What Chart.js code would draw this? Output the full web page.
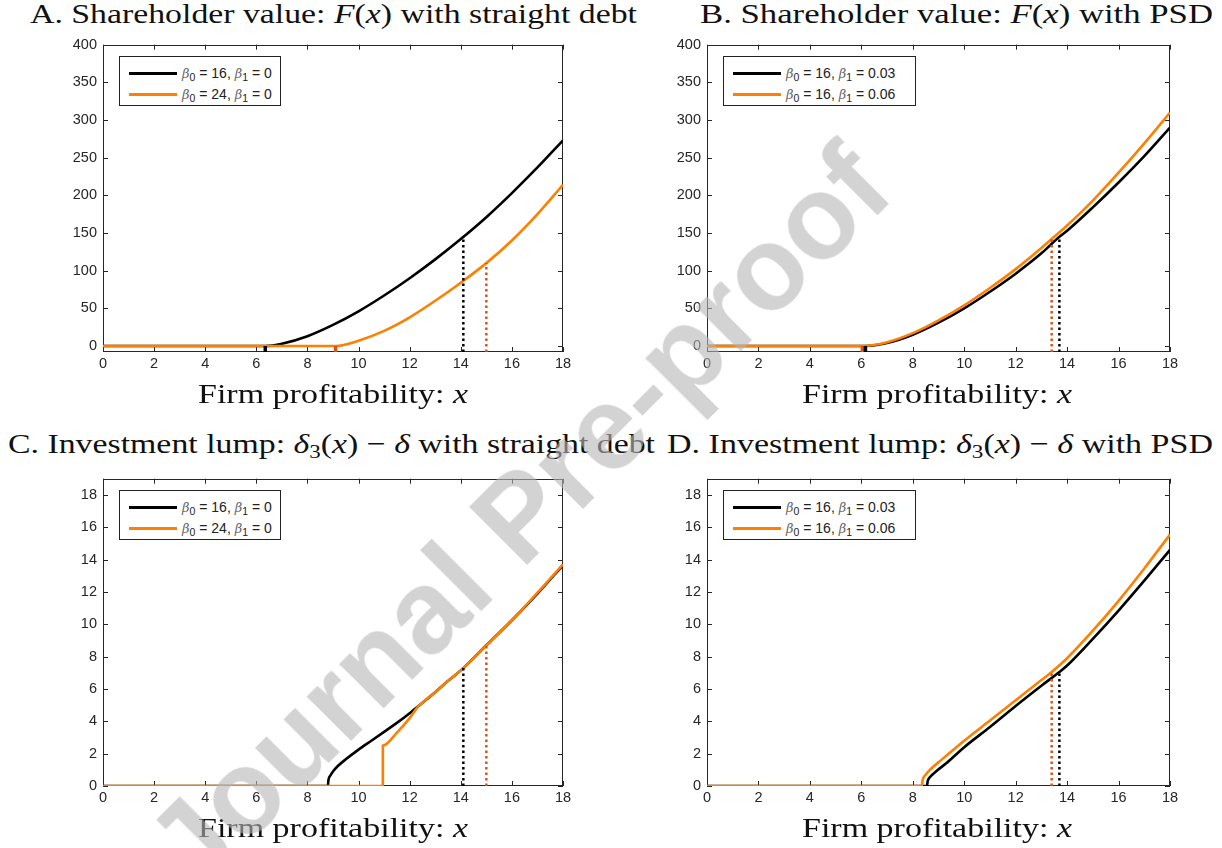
<!DOCTYPE html>
<html><head><meta charset="utf-8">
<script src="https://cdn.jsdelivr.net/npm/chart.js@4/dist/chart.umd.min.js"></script>
<style>
body{margin:0;width:1222px;height:848px;background:#fff;position:relative;overflow:hidden;}
canvas{position:absolute;}
.ttl{position:absolute;white-space:nowrap;font-family:"Liberation Serif",serif;font-size:28px;line-height:28px;color:#111;transform-origin:0 0;}
.ttl sub{font-size:19px;vertical-align:-5px;line-height:0;}
.leg{position:absolute;border:1px solid #222;background:#fff;font-family:"Liberation Sans",sans-serif;font-size:14px;color:#222;box-sizing:border-box;}
.leg .row{position:absolute;left:0;height:16px;white-space:nowrap;}
.leg .ln{position:absolute;left:9px;width:48px;height:3px;top:7px;}
.leg .tx{position:absolute;left:62px;top:0;line-height:16px;}
.leg sub{font-size:10.5px;vertical-align:-3px;line-height:0;}
.leg i{font-family:"DejaVu Serif",serif;font-size:13px;color:#666;}
.wm{position:absolute;white-space:nowrap;font-family:"Liberation Sans",sans-serif;font-weight:bold;font-size:118px;line-height:118px;color:rgba(182,182,182,0.6);transform:translate(-50%,-50%) rotate(-45deg);pointer-events:none;z-index:10;}
</style></head><body>
<canvas id="cA" width="600" height="384" style="left:0;top:30px"></canvas>
<canvas id="cB" width="604" height="384" style="left:604px;top:30px"></canvas>
<canvas id="cC" width="600" height="384" style="left:0;top:464px"></canvas>
<canvas id="cD" width="604" height="384" style="left:604px;top:464px"></canvas>
<div id="labels"></div>
<div class="wm" style="left:518px;top:516px">Journal Pre-proof</div>
<script>
// ---- axis ticks ----
const xTicks=[0,2,4,6,8,10,12,14,16,18];
const yTicksF=[0,50,100,150,200,250,300,350,400];
const yTicksL=[0,2,4,6,8,10,12,14,16,18];
const fRange=[-8,400];
const lRange=[0,19];
const xRange=[0,18];

// ---- Panel A: shareholder value, straight debt ----
const aBlackX=[0,6.35,7,8,9,10,11,12,13,14,15,16,17,18];
const aBlackY=[0,0,3,13,28,46,67,90,115,142,171,203,237,273];
const aOrangeX=[0,9.1,10,11,12,13,14,15,16,17,18];
const aOrangeY=[0,0,7,20,38,60,84,110,140,175,214];
const aBeta0=[16,24];
const aBeta1=['0','0'];
const aDotX=[14.1,15];
const aDotY=[146,110];
const aMarkX=[6.35,9.1];

// ---- Panel B: shareholder value, PSD ----
const bBlackX=[0,6.16,7,8,9,10,11,12,13,13.7,14,15,16,17,18];
const bBlackY=[0,0,4,15,31,50,72,96,123,145,153,184,217,252,290];
const bOrangeX=[0,6.04,7,8,9,10,11,12,13,13.4,14,15,16,17,18];
const bOrangeY=[0,0,5,17,34,54,77,102,130,142,160,193,230,269,310];
const bBeta0=[16,16];
const bBeta1=['0.03','0.06'];
const bDotX=[13.7,13.4];
const bDotY=[145,142];
const bMarkX=[6.16,6.04];

// ---- Panel C: investment lump, straight debt ----
const cBlackX=[0,8.8,8.82,8.9,9.0,9.2,9.5,10,10.5,11,11.5,12,12.5,13,13.5,14,15,16,17,18];
const cBlackY=[0,0,0.35,0.65,0.9,1.25,1.65,2.25,2.8,3.35,3.9,4.5,5.15,5.8,6.5,7.15,8.7,10.25,11.9,13.65];
const cOrangeX=[0,10.95,10.95,11.5,12,12.35,12.5,13,13.5,14,15,16,17,18];
const cOrangeY=[0,0,2.5,3.3,4.2,4.95,5.15,5.8,6.5,7.15,8.7,10.25,11.95,13.7];
const cBeta0=[16,24];
const cBeta1=['0','0'];
const cDotX=[14.1,15];
const cDotY=[7.3,8.7];

// ---- Panel D: investment lump, PSD ----
const dBlackX=[0,8.55,8.58,8.7,8.9,9.3,10,11,12,13,13.7,14,15,16,17,18];
const dBlackY=[0,0,0.3,0.6,0.9,1.4,2.4,3.65,4.95,6.2,7.05,7.45,9.1,10.85,12.7,14.6];
const dOrangeX=[0,8.35,8.38,8.5,8.7,9.1,10,11,12,13,13.4,14,15,16,17,18];
const dOrangeY=[0,0,0.35,0.7,1.05,1.6,2.8,4.05,5.3,6.55,7.05,7.9,9.6,11.45,13.45,15.55];
const dBeta0=[16,16];
const dBeta1=['0.03','0.06'];
const dDotX=[13.7,13.4];
const dDotY=[7.05,7.05];

const BLACK='#000000', ORANGE='#ff8000', RED='#d95319';
const pts=(xs,ys)=>xs.map((x,i)=>({x:x,y:ys[i]}));

const boxPlugin={id:'box',beforeDatasetsDraw(chart){
  const {ctx,chartArea:a,scales:{x,y}}=chart;
  ctx.save();ctx.strokeStyle='#262626';ctx.lineWidth=1;
  ctx.strokeRect(Math.round(a.left)+0.5,Math.round(a.top)+0.5,Math.round(a.right-a.left)-1,Math.round(a.bottom-a.top)-1);
  ctx.beginPath();
  x.ticks.forEach(t=>{const p=Math.round(x.getPixelForValue(t.value))+0.5;
    ctx.moveTo(p,a.bottom);ctx.lineTo(p,a.bottom-5);ctx.moveTo(p,a.top);ctx.lineTo(p,a.top+5);});
  y.ticks.forEach(t=>{const p=Math.round(y.getPixelForValue(t.value))+0.5;
    ctx.moveTo(a.left,p);ctx.lineTo(a.left+5,p);ctx.moveTo(a.right,p);ctx.lineTo(a.right-5,p);});
  ctx.stroke();ctx.restore();}};

function lbl(b0,b1){return 'β₀ = '+b0+', β₁ = '+b1;}
function makePanel(id,P){
  const ds=[];
  P.dotX.forEach((dx,i)=>ds.push({label:'thr'+i,data:pts([dx,dx],[P.yr[0],P.dotY[i]]),borderColor:[BLACK,RED][i],borderWidth:2.5,borderDash:[2.5,3],pointRadius:0}));
  (P.markX||[]).forEach((mx,i)=>ds.push({label:'mark'+i,data:pts([mx,mx],[P.yr[0],0]),borderColor:[BLACK,RED][i],borderWidth:3.5,pointRadius:0}));
  ds.push({label:lbl(P.b0[1],P.b1[1]),data:pts(P.oX,P.oY),borderColor:ORANGE,borderWidth:2.6,pointRadius:0,cubicInterpolationMode:'monotone'});
  ds.push({label:lbl(P.b0[0],P.b1[0]),data:pts(P.kX,P.kY),borderColor:BLACK,borderWidth:2.6,pointRadius:0,cubicInterpolationMode:'monotone'});
  const tickFont={family:'Liberation Sans',size:14.5};
  new Chart(document.getElementById(id),{type:'line',data:{datasets:ds},plugins:[boxPlugin],
    options:{responsive:false,animation:false,devicePixelRatio:1,
      layout:{padding:{top:11,right:P.pr,left:0,bottom:0}},
      elements:{line:{borderJoinStyle:'round',borderCapStyle:'butt'}},
      plugins:{legend:{display:false},tooltip:{enabled:false}},
      scales:{
        x:{type:'linear',min:xRange[0],max:xRange[1],
          afterBuildTicks:s=>{s.ticks=xTicks.map(v=>({value:v}));},
          afterFit:s=>{s.height=62;},
          grid:{display:false,drawTicks:false},border:{display:false},
          ticks:{font:tickFont,color:'#262626',padding:3,maxRotation:0,autoSkip:false}},
        y:{type:'linear',min:P.yr[0],max:P.yr[1],
          afterBuildTicks:s=>{s.ticks=P.yt.map(v=>({value:v}));},
          afterFit:s=>{s.width=103;},
          grid:{display:false,drawTicks:false},border:{display:false},
          ticks:{font:tickFont,color:'#262626',padding:6,autoSkip:false}}
      }}});
}
makePanel('cA',{kX:aBlackX,kY:aBlackY,oX:aOrangeX,oY:aOrangeY,b0:aBeta0,b1:aBeta1,dotX:aDotX,dotY:aDotY,markX:aMarkX,yr:fRange,yt:yTicksF,pr:37});
makePanel('cB',{kX:bBlackX,kY:bBlackY,oX:bOrangeX,oY:bOrangeY,b0:bBeta0,b1:bBeta1,dotX:bDotX,dotY:bDotY,markX:bMarkX,yr:fRange,yt:yTicksF,pr:38});
makePanel('cC',{kX:cBlackX,kY:cBlackY,oX:cOrangeX,oY:cOrangeY,b0:cBeta0,b1:cBeta1,dotX:cDotX,dotY:cDotY,yr:lRange,yt:yTicksL,pr:37});
makePanel('cD',{kX:dBlackX,kY:dBlackY,oX:dOrangeX,oY:dOrangeY,b0:dBeta0,b1:dBeta1,dotX:dDotX,dotY:dDotY,yr:lRange,yt:yTicksL,pr:38});

// ---- text: titles, axis labels, legends ----
const L=document.getElementById('labels');
function addText(html,left,baseline,width){
  const d=document.createElement('div');d.className='ttl';d.innerHTML=html;
  d.style.left=left+'px';d.style.top=(baseline-23.5)+'px';L.appendChild(d);
  const w=d.getBoundingClientRect().width;d.style.transform='scaleX('+(width/w)+')';
}
const Fx='<i>F</i>(<i>x</i>)';
const dl='<i>δ</i><sub>3</sub>(<i>x</i>) − <i>δ</i>';
addText('A. Shareholder value: '+Fx+' with straight debt',30,23,607);
addText('B. Shareholder value: '+Fx+' with PSD',700,23,513);
addText('C. Investment lump: '+dl+' with straight debt',8,453,647);
addText('D. Investment lump: '+dl+' with PSD',667,453,546);
const xl='Firm profitability: <i>x</i>';
addText(xl,198,403,270);addText(xl,802,403,270);
addText(xl,198,837,270);addText(xl,802,837,270);

function addLegend(left,top,width,b0,b1){
  const d=document.createElement('div');d.className='leg';
  d.style.left=left+'px';d.style.top=top+'px';d.style.width=width+'px';d.style.height='50px';
  [BLACK,ORANGE].forEach((c,i)=>{
    const r=document.createElement('div');r.className='row';r.style.top=(8+i*21)+'px';
    r.innerHTML='<div class="ln" style="background:'+c+'"></div><div class="tx"><i>β</i><sub>0</sub> = '+b0[i]+', <i>β</i><sub>1</sub> = '+b1[i]+'</div>';
    d.appendChild(r);});
  L.appendChild(d);
}
addLegend(119,56,162,aBeta0,aBeta1);
addLegend(723,56,193,bBeta0,bBeta1);
addLegend(119,490,162,cBeta0,cBeta1);
addLegend(723,490,193,dBeta0,dBeta1);
</script>
</body></html>
